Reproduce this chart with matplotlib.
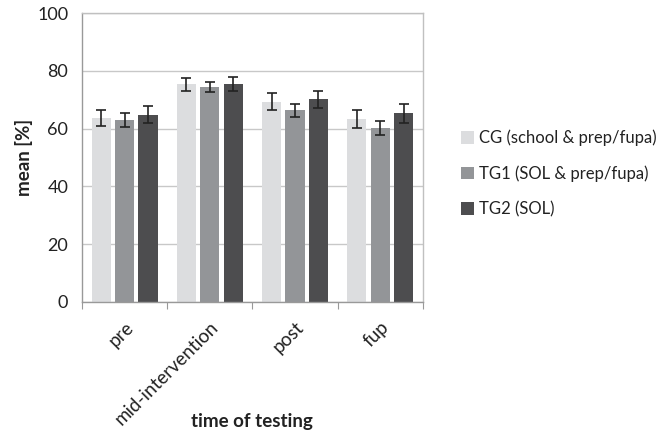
import matplotlib
matplotlib.use("Agg")
import matplotlib.pyplot as plt
import numpy as np

plt.rcParams['font.family'] = ['Lato', 'DejaVu Sans']

categories = ["pre", "mid-intervention", "post", "fup"]
series = ["CG (school & prep/fupa)", "TG1 (SOL & prep/fupa)", "TG2 (SOL)"]
cg = [63.7, 75.4, 69.3, 63.4]
tg1 = [63.0, 74.4, 66.4, 60.2]
tg2 = [64.8, 75.4, 70.2, 65.3]
cg_err = [2.9, 2.3, 2.9, 3.2]
tg1_err = [2.3, 1.8, 2.3, 2.5]
tg2_err = [2.9, 2.4, 3.0, 3.3]
colors = ["#dcdddf", "#939598", "#4d4d4f"]

fig = plt.figure(figsize=(6.68, 4.37), dpi=100)
ax = fig.add_axes([0.1228, 0.309, 0.633 - 0.1228, 0.661])

x = np.arange(len(categories))
spacing = 0.274
width = 0.225
for i, (vals, errs) in enumerate([(cg, cg_err), (tg1, tg1_err), (tg2, tg2_err)]):
    ax.bar(x + (i - 1) * spacing, vals, width, color=colors[i], label=series[i], zorder=2,
           yerr=errs, error_kw=dict(ecolor="#222222", elinewidth=1.2, capsize=3.5, capthick=1.2))

ax.set_xlim(-0.5, len(categories) - 0.5)
ax.set_ylim(0, 100)
ax.set_yticks(range(0, 101, 20))
ax.yaxis.grid(True, color="#c8c8c8", linewidth=1, zorder=0)
ax.set_axisbelow(True)
for s in ax.spines.values():
    s.set_color("#c0c0c0")
    s.set_linewidth(1)
ax.spines['bottom'].set_color("#999999")
ax.spines['left'].set_color("#999999")
ax.tick_params(axis='y', length=0, labelsize=13, pad=10, colors="#222222")
ax.set_xticks(np.arange(-0.5, len(categories) + 0.5, 1), minor=False)
ax.set_xticklabels([])
ax.tick_params(axis='x', which='major', length=5, color="#999999", direction='out')
ax.set_xticks(x, minor=True)
ax.set_xticklabels(categories, minor=True, rotation=45, ha='right', rotation_mode='anchor', fontsize=13.5)
ax.tick_params(axis='x', which='minor', length=0, pad=12, colors="#222222")

ax.set_ylabel("mean [%]", fontsize=13.5, fontweight='bold', color="#222222")
ax.yaxis.set_label_coords(-0.145, 0.5)
fig.text(252 / 668, 1 - 422 / 437, "time of testing", fontsize=13.5, fontweight='bold',
         ha='center', va='center', color="#222222")

leg = fig.legend(loc='upper left', bbox_to_anchor=(0.667, 0.738), frameon=False, fontsize=12,
                 handlelength=0.8, handleheight=0.8, handletextpad=0.3, labelspacing=1.15)
for t in leg.get_texts():
    t.set_color("#222222")
plt.savefig("out.png", dpi=100)
